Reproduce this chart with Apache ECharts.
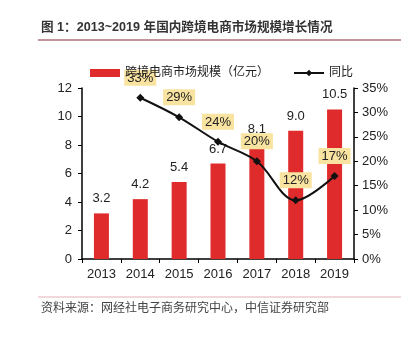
<!DOCTYPE html>
<html><head><meta charset="utf-8">
<script src="https://cdn.jsdelivr.net/npm/echarts@6/dist/echarts.min.js"></script>
<style>html,body{margin:0;padding:0;background:#fff}#c{width:418px;height:343px}</style>
</head><body><div id="c"></div>
<script>
const years = ['2013','2014','2015','2016','2017','2018','2019'];
const marketSize = [3.2, 4.2, 5.4, 6.7, 8.1, 9.0, 10.5];
const growth = [null, 33, 29, 24, 20, 12, 17];
const leftTicks = [0, 2, 4, 6, 8, 10, 12];
const rightTicks = ['0%','5%','10%','15%','20%','25%','30%','35%'];
const titleText = '图 1：2013~2019 年国内跨境电商市场规模增长情况';
const sourceText = '资料来源：网经社电子商务研究中心，中信证券研究部';
const seriesNames = ['跨境电商市场规模（亿元）', '同比'];

const chart = echarts.init(document.getElementById('c'));
const font = 'Arial, "Liberation Sans", "Noto Sans CJK SC", sans-serif';
chart.setOption({
  animation: false,
  textStyle: {fontFamily: font},
  graphic: [
    {type:'text', left: 41, top: 21, style:{text: titleText, font: 'bold 12.6px ' + font, fill:'#333'}},
    {type:'line', shape:{x1:38,y1:40,x2:401,y2:40}, style:{stroke:'#8a2a3a', lineWidth:1.2}},
    {type:'line', shape:{x1:38,y1:297,x2:401,y2:297}, style:{stroke:'#e0b0b8', lineWidth:1}},
    {type:'text', left: 41, top: 303, style:{text: sourceText, font: '12px ' + font, fill:'#444'}}
  ],
  legend: {
    left: 85, top: 62, itemWidth: 30, itemHeight: 8, itemGap: 24,
    textStyle:{fontSize:12, color:'#222', fontFamily: font},
    data: [{name: seriesNames[0], icon:'rect'}, {name: seriesNames[1]}]
  },
  grid: {left: 82, right: 64, top: 88, bottom: 84},
  xAxis: {
    type:'category', data: years,
    axisLine:{lineStyle:{color:'#000', width:1.5}},
    axisTick:{show:true, length:4, lineStyle:{color:'#000'}},
    axisLabel:{color:'#222', fontSize:13, margin:9}
  },
  yAxis: [
    {type:'value', min:0, max:12, interval:2,
     axisLine:{show:true, lineStyle:{color:'#000', width:1.5}},
     axisTick:{show:true, length:4, lineStyle:{color:'#000'}},
     axisLabel:{color:'#222', fontSize:13, margin:10,
       formatter: v => String(leftTicks[Math.round(v/2)])},
     splitLine:{show:false}},
    {type:'value', min:0, max:35, interval:5, position:'right',
     axisLine:{show:true, lineStyle:{color:'#000', width:1.5}},
     axisTick:{show:true, length:4, lineStyle:{color:'#000'}},
     axisLabel:{color:'#222', fontSize:13, margin:8,
       formatter: v => rightTicks[Math.round(v/5)]},
     splitLine:{show:false}}
  ],
  series: [
    {name: seriesNames[0], type:'bar', data: marketSize, barWidth: 15,
     itemStyle:{color:'#df2b2b'},
     label:{show:true, position:'top', distance:8, color:'#222', fontSize:13,
       formatter: p => p.value.toFixed(1)}},
    {name: seriesNames[1], type:'line', yAxisIndex:1, data: growth, smooth: 0.35,
     symbol:'diamond', symbolSize:8, connectNulls:false,
     lineStyle:{color:'#111', width:2}, itemStyle:{color:'#111'},
     label:{show:true, position:'top', distance:8, color:'#222', fontSize:13,
       backgroundColor:'#f9e3a0', padding:[2,3,1,3],
       formatter: p => p.value + '%'}}
  ]
});
</script></body></html>
